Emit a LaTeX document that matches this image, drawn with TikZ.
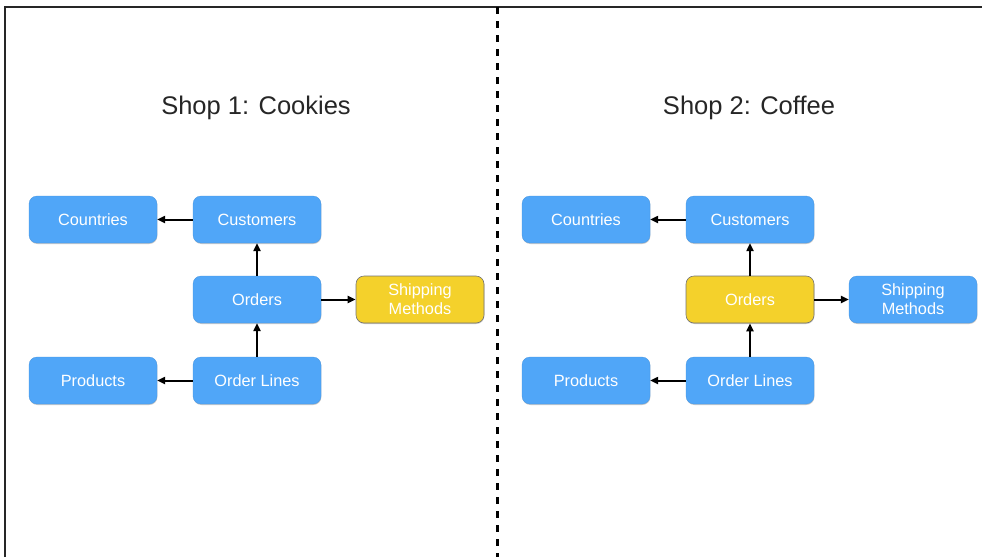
\documentclass[tikz,border=0pt]{standalone}
\usepackage{fontspec}
\setmainfont{Liberation Sans}
\usetikzlibrary{arrows.meta,shadows}
\definecolor{boxblue}{HTML}{50A6F8}
\definecolor{boxyellow}{HTML}{F4D12B}
\tikzset{
  x=1pt,y=-1pt,
  ent/.style={rounded corners=8pt, minimum width=128pt, minimum height=47pt, inner sep=0pt,
    text=white, font=\fontsize{16.3}{19}\selectfont, align=center,
    drop shadow={opacity=0.35, shadow xshift=0.4pt, shadow yshift=-1pt, fill=black!60}},
  blueent/.style={ent, fill=boxblue, draw=boxblue!90!black, line width=0.3pt},
  yellowent/.style={ent, fill=boxyellow, draw=black!55, line width=0.6pt},
  conn/.style={-{Triangle[length=8pt,width=7pt]}, line width=2pt, black},
  title/.style={font=\fontsize{25.5}{28}\selectfont, text=black!85, inner sep=0pt}
}
\begin{document}
\begin{tikzpicture}
\useasboundingbox (0,0) rectangle (982,557);
% frame
\coordinate (tl) at (5,7); \coordinate (tr) at (982,7); \coordinate (bl) at (5,557);
\draw[line width=1.4pt, black!85] (bl) -- (tl) -- (tr);
% divider
\coordinate (dtop) at (497,7); \coordinate (dbot) at (497,557);
\draw[line width=3pt, dash pattern=on 7pt off 7pt, black] (dtop) -- (dbot);
% titles
\node[title] (t1) at (256,108) {Shop 1: Cookies};
\node[title] (t2) at (749,108) {Shop 2: Coffee};
% shop 1
\node[blueent] (a1) at (93,219.5) {Countries};
\node[blueent] (b1) at (257,219.5) {Customers};
\node[blueent] (c1) at (257,299.5) {Orders};
\node[yellowent] (d1) at (420,299.5) {Shipping\\Methods};
\node[blueent] (e1) at (93,380.5) {Products};
\node[blueent] (f1) at (257,380.5) {Order Lines};
\draw[conn] (b1) -- (a1);
\draw[conn] (c1) -- (b1);
\draw[conn] (f1) -- (c1);
\draw[conn] (f1) -- (e1);
\draw[conn] (c1) -- (d1);
% shop 2
\node[blueent] (a2) at (586,219.5) {Countries};
\node[blueent] (b2) at (750,219.5) {Customers};
\node[yellowent] (c2) at (750,299.5) {Orders};
\node[blueent] (d2) at (913,299.5) {Shipping\\Methods};
\node[blueent] (e2) at (586,380.5) {Products};
\node[blueent] (f2) at (750,380.5) {Order Lines};
\draw[conn] (b2) -- (a2);
\draw[conn] (c2) -- (b2);
\draw[conn] (f2) -- (c2);
\draw[conn] (f2) -- (e2);
\draw[conn] (c2) -- (d2);
\end{tikzpicture}
\end{document}
